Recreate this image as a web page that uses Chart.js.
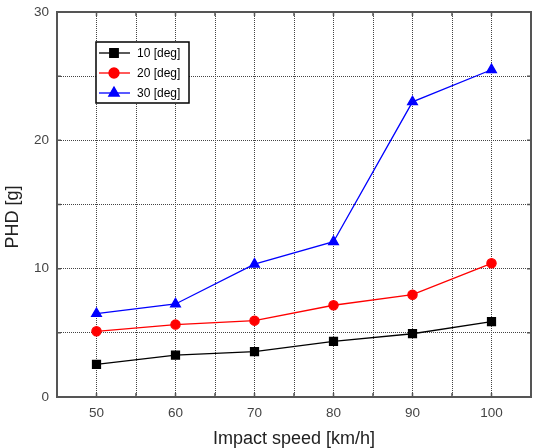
<!DOCTYPE html>
<html>
<head>
<meta charset="utf-8">
<script src="https://cdn.jsdelivr.net/npm/chart.js@4/dist/chart.umd.min.js"></script>
<style>
  html, body { margin: 0; padding: 0; background: #fff; }
  #wrap { width: 533px; height: 448px; }
</style>
</head>
<body>
<div id="wrap"><canvas id="chart_phd"></canvas></div>
<script>
// data
let speeds = [50, 60, 70, 80, 90, 100];
let deg10 = [2.55, 3.27, 3.53, 4.34, 4.93, 5.87];
let deg20 = [5.12, 5.64, 5.95, 7.15, 7.97, 10.42];
let deg30 = [6.5, 7.25, 10.35, 12.1, 23.0, 25.5];
let labels = ['10 [deg]', '20 [deg]', '30 [deg]'];

let fuente = 'Liberation Sans, Arial, sans-serif';

function puntos(vals) {
    return speeds.map((s, i) => ({x: s, y: vals[i]}));
}

let datos = {
    datasets: [
        {label: labels[0], data: puntos(deg10), borderColor: '#000', backgroundColor: '#000',
            pointStyle: 'rect', pointRadius: 5.6, borderWidth: 1.3, tension: 0},
        {label: labels[1], data: puntos(deg20), borderColor: '#ff0000', backgroundColor: '#ff0000',
            pointStyle: 'circle', pointRadius: 4.6, borderWidth: 1.3, tension: 0},
        {label: labels[2], data: puntos(deg30), borderColor: '#0000ff', backgroundColor: '#0000ff',
            pointStyle: 'triangle', pointRadius: 5.6, borderWidth: 1.3, tension: 0}
    ]
};

// marco del area, marcas hacia dentro y leyenda dentro del grafico
let marco = {
    id: 'marco',
    afterDatasetsDraw(chart) {
        let c = chart.ctx, a = chart.chartArea;
        let sx = chart.scales.x, sy = chart.scales.y;
        c.save();
        c.strokeStyle = '#555';
        c.lineWidth = 2;
        c.strokeRect(a.left, a.top, a.right - a.left, a.bottom - a.top);

        c.lineWidth = 1.5;
        c.beginPath();
        sx.ticks.forEach(t => {
            let px = sx.getPixelForValue(t.value);
            c.moveTo(px, a.top); c.lineTo(px, a.top + 4);
            c.moveTo(px, a.bottom); c.lineTo(px, a.bottom - 4);
        });
        sy.ticks.forEach(t => {
            let py = sy.getPixelForValue(t.value);
            c.moveTo(a.left, py); c.lineTo(a.left + 4, py);
            c.moveTo(a.right, py); c.lineTo(a.right - 4, py);
        });
        c.stroke();

        // leyenda
        let x0 = 96, y0 = 42, w = 93, h = 61;
        c.fillStyle = '#fff';
        c.fillRect(x0, y0, w, h);
        c.strokeStyle = '#000';
        c.lineWidth = 1.5;
        c.strokeRect(x0, y0, w, h);
        c.font = '12px ' + fuente;
        c.textBaseline = 'middle';
        chart.data.datasets.forEach((ds, i) => {
            let y = y0 + 11 + i * 20;
            c.strokeStyle = ds.borderColor;
            c.lineWidth = 1.3;
            c.beginPath();
            c.moveTo(x0 + 3, y);
            c.lineTo(x0 + 34, y);
            c.stroke();
            Chart.helpers.drawPoint(c, {pointStyle: ds.pointStyle, radius: ds.pointRadius + 0.4, borderWidth: 1},
                x0 + 18, y);
            c.fillStyle = ds.backgroundColor;
            c.fill();
            c.fillStyle = '#000';
            c.fillText(ds.label, x0 + 41, y + 1);
        });
        c.restore();
    }
};

let opciones = {
    responsive: true,
    maintainAspectRatio: false,
    animation: false,
    layout: {autoPadding: false, padding: {top: 12, right: 2, left: 0, bottom: 0}},
    scales: {
        x: {
            type: 'linear', min: 45, max: 105,
            afterFit: s => { s.height = 51; s.paddingLeft = 0; s.paddingRight = 0; },
            ticks: {stepSize: 5, padding: 8, color: '#444', font: {family: fuente, size: 13.5},
                callback: v => (v % 10 === 0 ? v : '')},
            grid: {color: '#444', lineWidth: 1, drawTicks: false},
            border: {display: false, dash: [1, 1]},
            title: {display: true, text: 'Impact speed [km/h]', color: '#222',
                font: {family: fuente, size: 18, lineHeight: 1}, padding: {top: 0, bottom: 0}}
        },
        y: {
            min: 0, max: 30,
            afterFit: s => { s.width = 57; s.paddingTop = 0; s.paddingBottom = 0; },
            ticks: {stepSize: 5, padding: 8, color: '#444', font: {family: fuente, size: 13.5},
                callback: v => (v % 10 === 0 ? v : '')},
            grid: {color: '#444', lineWidth: 1, drawTicks: false},
            border: {display: false, dash: [1, 1]},
            title: {display: true, text: 'PHD [g]     ', color: '#222',
                font: {family: fuente, size: 18, lineHeight: 1}, padding: {top: 4, bottom: 0}}
        }
    },
    plugins: {
        legend: false,
        tooltip: {enabled: false}
    }
};

let phd = new Chart(
    document.getElementById('chart_phd'), {
        type: 'line',
        data: datos,
        options: opciones,
        plugins: [marco]
    });
</script>
</body>
</html>
